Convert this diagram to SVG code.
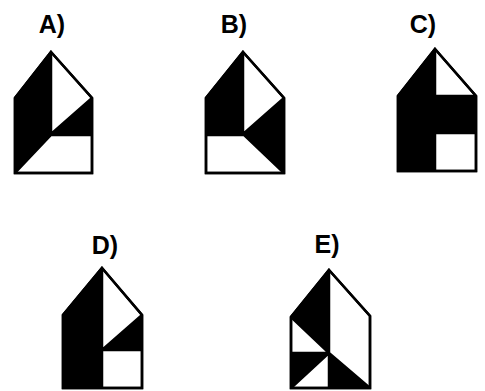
<svg xmlns="http://www.w3.org/2000/svg" width="485" height="391" viewBox="0 0 485 391">
<style>
.lbl{font-family:"Liberation Sans",Arial,sans-serif;font-weight:bold;font-size:25px;fill:#000;text-anchor:middle}
.o{fill:#fff;stroke:#000;stroke-width:2.5;stroke-linejoin:miter}
.b{fill:#000;stroke:#000;stroke-width:1}
.l{fill:none;stroke:#000;stroke-width:2.5}
</style>
<rect width="485" height="391" fill="#fff"/>
<g id="figA">
<text class="lbl" x="52" y="33">A)</text>
<polygon class="o" points="51,52 92,98 92,173 15,173 15,98"/>
<polygon class="b" points="51,52 15,98 15,173 51,135"/>
<polygon class="b" points="92,98 92,135 51,134"/>
<path class="l" d="M51,52V135H92M92,98L51,134M51,135L15,173"/>
<polygon class="o" style="fill:none" points="51,52 92,98 92,173 15,173 15,98"/>
</g>
<g id="figB">
<text class="lbl" x="234" y="33">B)</text>
<polygon class="o" points="243,52 284,98 284,173 206,173 206,98"/>
<polygon class="b" points="243,52 206,98 206,135 243,135"/>
<polygon class="b" points="284,98 284,173 243,134"/>
<path class="l" d="M243,52V135H206M284,98L243,134L284,173"/>
<polygon class="o" style="fill:none" points="243,52 284,98 284,173 206,173 206,98"/>
</g>
<g id="figC">
<text class="lbl" x="423" y="33">C)</text>
<polygon class="o" points="435,49 476,96 476,171 398,171 398,96"/>
<polygon class="b" points="435,49 398,96 398,171 435,171"/>
<rect class="b" x="435" y="96" width="41" height="37"/>
<path class="l" d="M435,49V171M435,96H476M435,133H476"/>
<polygon class="o" style="fill:none" points="435,49 476,96 476,171 398,171 398,96"/>
</g>
<g id="figD">
<text class="lbl" x="105" y="254">D)</text>
<polygon class="o" points="102,268 142,315 142,388 63,388 63,315"/>
<polygon class="b" points="102,268 63,315 63,388 102,388"/>
<polygon class="b" points="142,315 142,350 102,350"/>
<path class="l" d="M102,268V388M102,350H142M142,315L102,350"/>
<polygon class="o" style="fill:none" points="102,268 142,315 142,388 63,388 63,315"/>
</g>
<g id="figE">
<text class="lbl" x="327" y="253">E)</text>
<polygon class="o" points="329,270 370,316 370,388 291,388 291,317"/>
<polygon class="b" points="329,270 291,317 329,353"/>
<polygon class="b" points="291,353 329,353 291,388"/>
<polygon class="b" points="329,353 329,388 370,388"/>
<path class="l" d="M329,270V388M291,353H329M291,317L329,353L291,388M329,353L370,388"/>
<polygon class="o" style="fill:none" points="329,270 370,316 370,388 291,388 291,317"/>
</g>
</svg>
